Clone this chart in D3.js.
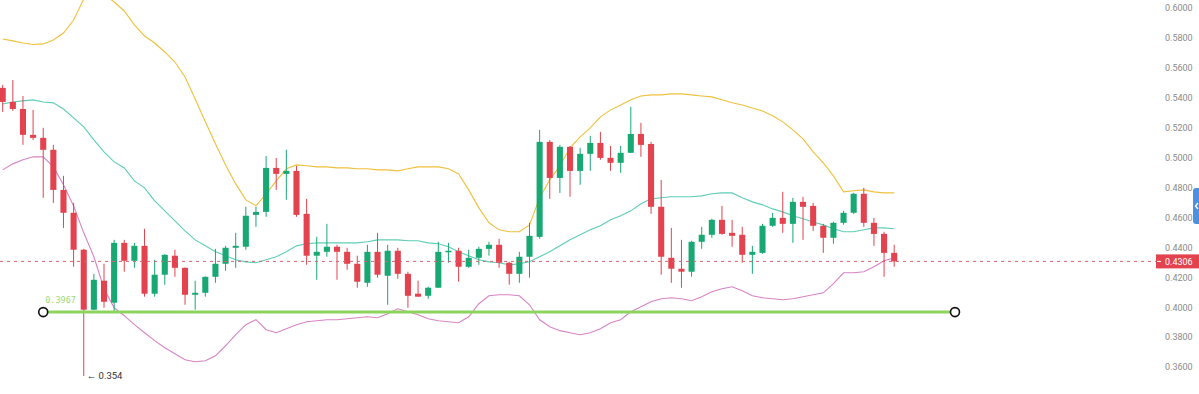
<!DOCTYPE html>
<html>
<head>
<meta charset="utf-8">
<script src="https://cdn.jsdelivr.net/npm/d3@7"></script>
<style>
  html, body { margin: 0; padding: 0; background: #ffffff; }
  svg { display: block; }
</style>
</head>
<body>
<div id="wrapper"></div>
<script>
// candles: open / high / low / close
const opens  = [0.5466,0.5372,0.5325,0.5152,0.5132,0.5052,0.4784,0.4631,0.4384,0.3983,0.4177,0.4030,0.4430,0.4310,0.4410,0.4090,0.4217,0.4344,0.4263,0.4083,0.4096,0.4203,0.4290,0.4397,0.4404,0.4617,0.4637,0.4931,0.4891,0.4911,0.4624,0.4344,0.4370,0.4404,0.4370,0.4290,0.4163,0.4370,0.4210,0.4377,0.4223,0.4090,0.4076,0.4130,0.4370,0.4377,0.4270,0.4330,0.4390,0.4417,0.4297,0.4223,0.4337,0.4470,0.5105,0.4864,0.5072,0.4911,0.5025,0.5098,0.4998,0.4965,0.5032,0.5158,0.5091,0.4671,0.4330,0.4257,0.4237,0.4437,0.4484,0.4584,0.4497,0.4484,0.4350,0.4363,0.4544,0.4597,0.4557,0.4704,0.4677,0.4544,0.4464,0.4564,0.4631,0.4758,0.4564,0.4490,0.4363]
const highs  = [0.5486,0.5519,0.5412,0.5319,0.5199,0.5085,0.4878,0.4697,0.4390,0.4223,0.4290,0.4450,0.4450,0.4430,0.4524,0.4317,0.4355,0.4384,0.4265,0.4177,0.4205,0.4390,0.4410,0.4497,0.4671,0.4671,0.5011,0.4998,0.5052,0.4944,0.4724,0.4470,0.4557,0.4417,0.4397,0.4344,0.4417,0.4497,0.4417,0.4397,0.4237,0.4177,0.4137,0.4437,0.4430,0.4397,0.4384,0.4404,0.4437,0.4457,0.4303,0.4370,0.4564,0.5185,0.5118,0.5085,0.5078,0.5065,0.5145,0.5172,0.5078,0.5078,0.5339,0.5232,0.5105,0.4851,0.4530,0.4450,0.4444,0.4537,0.4591,0.4677,0.4584,0.4537,0.4410,0.4557,0.4631,0.4771,0.4731,0.4738,0.4697,0.4557,0.4571,0.4644,0.4764,0.4798,0.4597,0.4504,0.4417]
const lows   = [0.5305,0.5312,0.5085,0.5118,0.4731,0.4697,0.4530,0.4270,0.3540,0.3980,0.3996,0.3963,0.4237,0.4263,0.4070,0.4070,0.4150,0.4203,0.4016,0.3983,0.4070,0.4163,0.4243,0.4263,0.4384,0.4537,0.4604,0.4784,0.4718,0.4604,0.4283,0.4183,0.4337,0.4183,0.4250,0.4130,0.4136,0.4197,0.4016,0.4190,0.3996,0.4068,0.4056,0.4128,0.4297,0.4170,0.4263,0.4283,0.4344,0.4263,0.4150,0.4163,0.4197,0.4457,0.4724,0.4764,0.4738,0.4818,0.4911,0.4985,0.4911,0.4898,0.5030,0.5005,0.4624,0.4217,0.4163,0.4130,0.4203,0.4390,0.4464,0.4484,0.4404,0.4297,0.4223,0.4357,0.4537,0.4497,0.4430,0.4450,0.4510,0.4363,0.4424,0.4551,0.4624,0.4537,0.4410,0.4203,0.4270]
const closes = [0.5372,0.5325,0.5152,0.5132,0.5052,0.4784,0.4631,0.4384,0.3983,0.4183,0.4036,0.4430,0.4310,0.4410,0.4090,0.4217,0.4350,0.4263,0.4083,0.4096,0.4203,0.4290,0.4397,0.4410,0.4611,0.4637,0.4931,0.4891,0.4911,0.4617,0.4344,0.4370,0.4404,0.4370,0.4290,0.4170,0.4370,0.4217,0.4377,0.4223,0.4076,0.4070,0.4130,0.4370,0.4377,0.4270,0.4330,0.4390,0.4417,0.4297,0.4223,0.4337,0.4477,0.5105,0.4864,0.5072,0.4911,0.5025,0.5098,0.4998,0.4965,0.5032,0.5158,0.5085,0.4671,0.4337,0.4257,0.4237,0.4437,0.4484,0.4584,0.4490,0.4477,0.4350,0.4370,0.4544,0.4597,0.4557,0.4704,0.4671,0.4544,0.4464,0.4564,0.4631,0.4758,0.4564,0.4490,0.4363,0.4306]

// bollinger bands
const bandUpper  = [0.5793,0.5780,0.5766,0.5756,0.5760,0.5786,0.5833,0.5920,0.6060,0.6114,0.6094,0.6040,0.5980,0.5887,0.5813,0.5766,0.5706,0.5639,0.5539,0.5392,0.5239,0.5092,0.4951,0.4824,0.4717,0.4677,0.4758,0.4844,0.4925,0.4951,0.4945,0.4938,0.4938,0.4931,0.4931,0.4925,0.4925,0.4918,0.4918,0.4911,0.4925,0.4938,0.4938,0.4938,0.4925,0.4891,0.4784,0.4664,0.4564,0.4517,0.4504,0.4504,0.4550,0.4731,0.4851,0.4945,0.5065,0.5138,0.5198,0.5272,0.5319,0.5352,0.5386,0.5412,0.5419,0.5419,0.5426,0.5426,0.5419,0.5412,0.5406,0.5386,0.5366,0.5352,0.5332,0.5312,0.5279,0.5239,0.5185,0.5125,0.5038,0.4965,0.4878,0.4771,0.4778,0.4784,0.4771,0.4764,0.4764]
const bandMiddle = [0.5359,0.5372,0.5379,0.5386,0.5372,0.5366,0.5325,0.5265,0.5205,0.5118,0.5038,0.4971,0.4931,0.4844,0.4798,0.4711,0.4644,0.4577,0.4510,0.4450,0.4410,0.4370,0.4344,0.4317,0.4303,0.4297,0.4317,0.4337,0.4370,0.4410,0.4424,0.4430,0.4430,0.4430,0.4430,0.4430,0.4437,0.4450,0.4450,0.4450,0.4444,0.4444,0.4430,0.4424,0.4404,0.4370,0.4344,0.4317,0.4303,0.4297,0.4283,0.4290,0.4303,0.4337,0.4370,0.4410,0.4450,0.4484,0.4517,0.4544,0.4584,0.4611,0.4644,0.4691,0.4724,0.4731,0.4738,0.4738,0.4738,0.4744,0.4758,0.4764,0.4764,0.4731,0.4704,0.4684,0.4657,0.4637,0.4611,0.4591,0.4570,0.4550,0.4524,0.4504,0.4504,0.4517,0.4530,0.4530,0.4524]
const bandLower  = [0.4918,0.4958,0.4985,0.5005,0.5005,0.4938,0.4818,0.4677,0.4497,0.4337,0.4123,0.3996,0.3943,0.3883,0.3829,0.3776,0.3729,0.3689,0.3649,0.3635,0.3642,0.3675,0.3742,0.3816,0.3883,0.3916,0.3849,0.3829,0.3856,0.3883,0.3903,0.3909,0.3916,0.3916,0.3923,0.3929,0.3936,0.3929,0.3956,0.3989,0.3969,0.3949,0.3923,0.3909,0.3903,0.3896,0.3936,0.4023,0.4076,0.4083,0.4083,0.4076,0.4016,0.3916,0.3869,0.3843,0.3829,0.3816,0.3829,0.3856,0.3896,0.3916,0.3969,0.4003,0.4036,0.4056,0.4063,0.4056,0.4043,0.4070,0.4103,0.4123,0.4136,0.4110,0.4076,0.4063,0.4056,0.4050,0.4056,0.4070,0.4083,0.4096,0.4157,0.4230,0.4230,0.4237,0.4270,0.4310,0.4330]

const yTicks = [0.36,0.38,0.40,0.42,0.44,0.46,0.48,0.50,0.52,0.54,0.56,0.58,0.60]

// drawn horizontal level (start / end bar index and price)
const levelPrice = 0.3967
const levelFrom = 4
const levelTo = 94
const lowMarkPrice = 0.354
const lowMarkIndex = 8

const data = opens.map((o, i) => ({
  i, open: o, high: highs[i], low: lows[i], close: closes[i],
  up: bandUpper[i], mid: bandMiddle[i], lo: bandLower[i]
}))
const lastPrice = closes[closes.length - 1]

const width = 1199
const height = 394

const green = "#18a874"
const red = "#e2434f"

const xScale = d3.scaleLinear()
  .domain([0, data.length - 1])
  .range([2.7, 894.2])

const yScale = d3.scaleLinear()
  .domain([0.36, 0.60])
  .range([367, 8])

const step = xScale(1) - xScale(0)
const bodyW = step * 0.6

const svg = d3.select("#wrapper")
  .append("svg")
    .attr("width", width)
    .attr("height", height)

svg.append("defs").append("clipPath")
    .attr("id", "plot")
  .append("rect")
    .attr("x", 0).attr("y", 0)
    .attr("width", 1156).attr("height", height)

const plot = svg.append("g").attr("clip-path", "url(#plot)")

// bands
const bandLine = acc => d3.line()
  .x(d => xScale(d.i))
  .y(d => yScale(acc(d)))

const bands = [
  { acc: d => d.up,  color: "#efc03c" },
  { acc: d => d.mid, color: "#5ecdb6" },
  { acc: d => d.lo,  color: "#d883c6" },
]
bands.forEach(b => {
  plot.append("path")
    .attr("d", bandLine(b.acc)(data))
    .attr("fill", "none")
    .attr("stroke", b.color)
    .attr("stroke-width", 1.1)
})

// last price dashed line
svg.append("line")
  .attr("x1", 0).attr("x2", 1156)
  .attr("y1", yScale(lastPrice)).attr("y2", yScale(lastPrice))
  .attr("stroke", "#d9636e")
  .attr("stroke-width", 1)
  .attr("stroke-dasharray", "3,4")

// candles
const candles = plot.append("g")
  .selectAll("g")
  .data(data)
  .join("g")

candles.append("line")
  .attr("x1", d => xScale(d.i)).attr("x2", d => xScale(d.i))
  .attr("y1", d => yScale(d.high)).attr("y2", d => yScale(d.low))
  .attr("stroke", d => d.close >= d.open ? green : red)
  .attr("stroke-width", 1)

candles.append("rect")
  .attr("x", d => xScale(d.i) - bodyW / 2)
  .attr("width", bodyW)
  .attr("y", d => yScale(Math.max(d.open, d.close)))
  .attr("height", d => Math.max(1.5, Math.abs(yScale(d.open) - yScale(d.close))))
  .attr("fill", d => d.close >= d.open ? green : red)

// horizontal level
const ly = yScale(levelPrice)
svg.append("line")
  .attr("x1", xScale(levelFrom)).attr("x2", xScale(levelTo))
  .attr("y1", ly).attr("y2", ly)
  .attr("stroke", "#8dd45c")
  .attr("stroke-width", 3)

svg.selectAll(".handle")
  .data([levelFrom, levelTo])
  .join("circle")
    .attr("cx", d => xScale(d))
    .attr("cy", ly)
    .attr("r", 4.5)
    .attr("fill", "#fff")
    .attr("stroke", "#111")
    .attr("stroke-width", 1.6)

svg.append("text")
  .attr("x", xScale(levelFrom) + 2)
  .attr("y", ly - 9)
  .attr("fill", "#9fd878")
  .style("font-family", "DejaVu Sans Mono, monospace")
  .style("font-size", "8.5px")
  .text(d3.format(".4f")(levelPrice))

// low marker
svg.append("text")
  .attr("x", xScale(lowMarkIndex) + 3)
  .attr("y", yScale(lowMarkPrice) + 3.5)
  .attr("fill", "#333")
  .style("font-family", "Roboto, sans-serif")
  .style("font-size", "9.5px")
  .text("\u2190 " + lowMarkPrice)

// y axis on the right
const yAxis = svg.append("g")
  .attr("transform", "translate(1165,0)")
  .call(d3.axisRight(yScale)
    .tickValues(yTicks)
    .tickFormat(d3.format(".4f"))
    .tickSize(0)
    .tickPadding(0))
yAxis.select(".domain").remove()
yAxis.selectAll("text")
  .attr("fill", "#8a8a8a")
  .style("font-family", "Roboto, sans-serif")
  .style("font-size", "9px")

// last price label
const py = yScale(lastPrice)
svg.append("rect")
  .attr("x", 1156).attr("y", py - 7)
  .attr("width", 43).attr("height", 14)
  .attr("fill", red)
svg.append("line")
  .attr("x1", 1157).attr("x2", 1161)
  .attr("y1", py).attr("y2", py)
  .attr("stroke", "#fff")
svg.append("text")
  .attr("x", 1165).attr("y", py)
  .attr("dy", "0.35em")
  .attr("fill", "#fff")
  .style("font-family", "Roboto, sans-serif")
  .style("font-size", "9px")
  .text(d3.format(".4f")(lastPrice))

// blue side tab
svg.append("rect")
  .attr("x", 1193).attr("y", 188)
  .attr("width", 10).attr("height", 36)
  .attr("rx", 3)
  .attr("fill", "#4f8fe0")
svg.append("path")
  .attr("d", "M1198,203 L1195.5,206 L1198,209")
  .attr("fill", "none")
  .attr("stroke", "#fff")
  .attr("stroke-width", 1.3)
</script>
</body>
</html>
